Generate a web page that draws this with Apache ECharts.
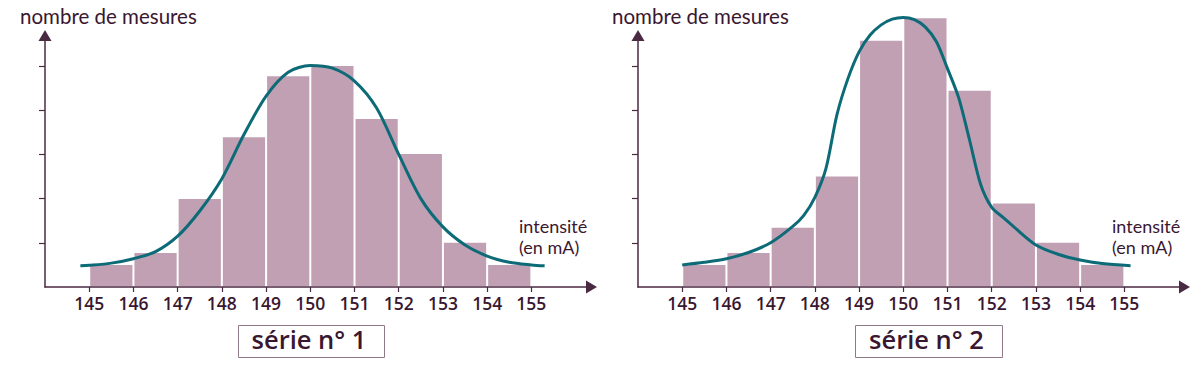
<!DOCTYPE html>
<html><head><meta charset="utf-8">
<script src="https://cdn.jsdelivr.net/npm/echarts@6/dist/echarts.min.js"></script>
<style>html,body{margin:0;padding:0;background:#fff}#c{width:1200px;height:366px}</style>
</head><body><div id="c"></div>
<script>
// ---- data ----
const binStarts = [145, 146, 147, 148, 149, 150, 151, 152, 153, 154];
const tickLabels = [145, 146, 147, 148, 149, 150, 151, 152, 153, 154, 155];
const yTicks = [1, 2, 3, 4, 5];
const counts1 = [0.5, 0.77, 1.99, 3.39, 4.77, 5.0, 3.8, 3.01, 1.0, 0.5];
const counts2 = [0.5, 0.77, 1.34, 2.5, 5.57, 6.08, 4.44, 1.89, 1.0, 0.5];
const curve1X = [144.8, 145, 145.5, 146, 146.5, 147, 147.5, 148, 148.5, 149, 149.5, 150, 150.5, 151, 151.5, 152, 152.5, 153, 153.5, 154, 154.5, 155, 155.3];
const curve1Y = [0.48, 0.49, 0.54, 0.64, 0.80, 1.15, 1.72, 2.45, 3.45, 4.32, 4.86, 5.01, 4.95, 4.66, 4.05, 3.0, 2.0, 1.36, 0.95, 0.70, 0.56, 0.5, 0.48];
const curve2X = [145, 145.5, 146, 146.5, 147, 147.5, 147.75, 148, 148.25, 148.5, 148.75, 149, 149.25, 149.5, 149.75, 150, 150.25, 150.5, 150.75, 151, 151.25, 151.5, 151.75, 152, 152.25, 152.5, 153, 153.5, 154, 154.5, 155.14];
const curve2Y = [0.5, 0.56, 0.64, 0.78, 1.0, 1.37, 1.62, 2.03, 2.68, 3.9, 4.72, 5.32, 5.7, 5.93, 6.06, 6.1, 6.05, 5.88, 5.55, 4.94, 4.29, 3.32, 2.32, 1.8, 1.58, 1.36, 0.95, 0.74, 0.61, 0.53, 0.48];
const titles = ['série n° 1', 'série n° 2'];
const yName = 'nombre de mesures';
const xName = 'intensité\n(en mA)';

// ---- styles ----
const AX = '#4a2a42', TXT = '#3a1730', BAR = '#c1a0b4', CURVE = '#0d6b78';
const lefts = [45, 638];

function zip(a, b) { return a.map((v, i) => [v, b[i]]); }

const grids = lefts.map(l => ({ left: l, width: 546.5, top: 35.5, bottom: 79, containLabel: false }));
const xAxes = lefts.map((l, i) => ({
  type: 'value', gridIndex: i, min: 144, max: 156.36, z: 5,
  axisLine: { show: true, lineStyle: { color: AX, width: 1.5 }, symbol: ['none', 'triangle'], symbolSize: [13, 11] },
  axisTick: { show: true, length: 5, customValues: tickLabels, lineStyle: { color: AX, width: 1.2 } },
  axisLabel: { show: true, customValues: tickLabels, color: TXT, fontFamily: 'Open Sans', fontWeight: 600, fontSize: 17.5, margin: 7 },
  splitLine: { show: false }
}));
const yAxes = lefts.map((l, i) => ({
  type: 'value', gridIndex: i, min: 0, max: 5.69, z: 5,
  axisLine: { show: true, lineStyle: { color: AX, width: 1.5 }, symbol: ['none', 'triangle'], symbolSize: [13, 11] },
  axisTick: { show: true, length: 6, customValues: yTicks, lineStyle: { color: AX, width: 1.2 } },
  axisLabel: { show: false },
  splitLine: { show: false }
}));

function barSeries(idx, counts) {
  return {
    type: 'custom', xAxisIndex: idx, yAxisIndex: idx, clip: false, z: 2,
    data: binStarts.map((b, i) => [b, counts[i]]),
    renderItem: (params, api) => {
      const x0 = api.value(0), h = api.value(1);
      const p1 = api.coord([x0, h]);
      const p2 = api.coord([x0 + 1, 0]);
      return { type: 'rect', shape: { x: p1[0] + 1, y: p1[1], width: p2[0] - p1[0] - 2, height: p2[1] - p1[1] - 1 }, style: { fill: BAR } };
    }
  };
}
function curveSeries(idx, xs, ys) {
  return {
    type: 'line', xAxisIndex: idx, yAxisIndex: idx, data: zip(xs, ys), smooth: 0.3,
    symbol: 'none', clip: false, z: 4, lineStyle: { color: CURVE, width: 3 }
  };
}

const graphics = [];
lefts.forEach((l, i) => {
  graphics.push({ type: 'text', left: l - 25 + (i ? -1 : 0), top: 5, style: { text: yName, fill: TXT, font: '20.5px Lato' } });
  graphics.push({ type: 'text', left: l + 474, top: 215, style: { text: xName, fill: TXT, font: '18px Lato', lineHeight: 21 } });
});
[[236, 309], [853, 926.5]].forEach((b, i) => {
  const w = i ? 147 : 146;
  graphics.push({ type: 'rect', left: b[0], top: 323, shape: { width: w, height: 32 }, style: { fill: 'none', stroke: '#8f7a8a', lineWidth: 1 } });
  graphics.push({ type: 'text', x: b[1], y: 339, style: { text: titles[i], fill: TXT, font: '600 25.5px "Open Sans"', align: 'center', verticalAlign: 'middle' } });
});

const chart = echarts.init(document.getElementById('c'), null, { renderer: 'svg' });
chart.setOption({
  animation: false,
  grid: grids, xAxis: xAxes, yAxis: yAxes,
  series: [barSeries(0, counts1), curveSeries(0, curve1X, curve1Y), barSeries(1, counts2), curveSeries(1, curve2X, curve2Y)],
  graphic: graphics
});
</script></body></html>
